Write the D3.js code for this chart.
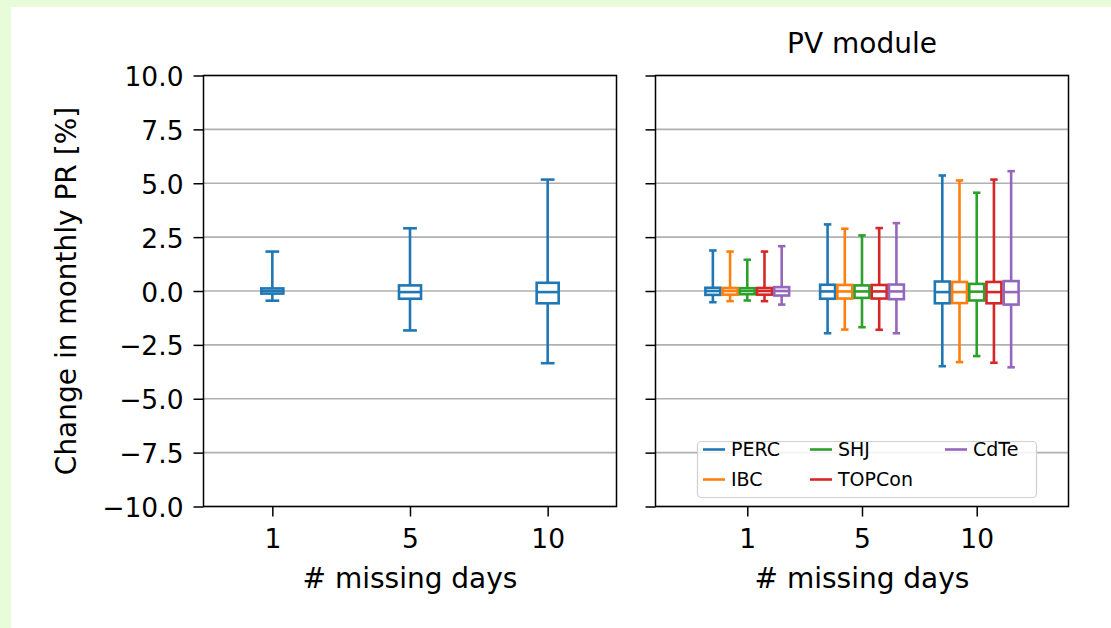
<!DOCTYPE html>
<html>
<head>
<meta charset="utf-8">
<script src="https://cdn.jsdelivr.net/npm/d3@7"></script>
<style>
  html, body { margin: 0; padding: 0; background: #e9fcd9; }
  svg { display: block; font-family: "DejaVu Sans", sans-serif; }
</style>
</head>
<body>
<svg id="chart" width="1111" height="628"></svg>
<script>
// Categories (number of missing days) and y-axis ticks
const missingDays = ["1", "5", "10"];
const yTicks = [-10, -7.5, -5, -2.5, 0, 2.5, 5, 7.5, 10];

// Box statistics per category: [lower whisker, Q1, median, Q3, upper whisker]
const allModules = [
  [-0.45, -0.12, 0.00, 0.12, 1.83],
  [-1.83, -0.36, -0.05, 0.26, 2.91],
  [-3.35, -0.57, -0.05, 0.38, 5.17]
];

const moduleTypes = ["PERC", "IBC", "SHJ", "TOPCon", "CdTe"];
const moduleColors = ["#1f77b4", "#ff7f0e", "#2ca02c", "#d62728", "#9467bd"];

const perc = [
  [-0.52, -0.18, 0.00, 0.15, 1.88],
  [-1.96, -0.36, -0.02, 0.29, 3.09],
  [-3.49, -0.57, -0.05, 0.44, 5.36]
];
const ibc = [
  [-0.47, -0.17, 0.00, 0.14, 1.83],
  [-1.79, -0.35, -0.02, 0.28, 2.89],
  [-3.30, -0.56, -0.05, 0.42, 5.13]
];
const shj = [
  [-0.44, -0.15, 0.00, 0.13, 1.45],
  [-1.68, -0.32, -0.02, 0.26, 2.58],
  [-3.02, -0.44, -0.03, 0.33, 4.56]
];
const topcon = [
  [-0.47, -0.17, 0.00, 0.14, 1.83],
  [-1.80, -0.35, -0.02, 0.28, 2.92],
  [-3.33, -0.57, -0.05, 0.42, 5.17]
];
const cdte = [
  [-0.63, -0.21, 0.00, 0.18, 2.08],
  [-1.96, -0.38, -0.02, 0.30, 3.15],
  [-3.54, -0.63, -0.05, 0.46, 5.56]
];
const moduleSeries = [perc, ibc, shj, topcon, cdte];
const moduleOffsets = [-0.3, -0.15, 0, 0.15, 0.3];

const svg = d3.select("#chart");

// white figure area
svg.append("rect").attr("x", 11).attr("y", 7).attr("width", 1100).attr("height", 621).attr("fill", "#ffffff");

const plotTop = 75.5, plotBottom = 506.5;
const y = d3.scaleLinear().domain([-10, 10]).range([plotBottom, plotTop]);

const panels = [
  { left: 203.5, right: 616.5, domain: [0.5, 3.5], labels: true },
  { left: 655.5, right: 1068.5, domain: [0.2, 3.8], labels: false }
];

function drawPanel(p) {
  const x = d3.scaleLinear().domain(p.domain).range([p.left, p.right]);
  const g = svg.append("g");

  // horizontal grid
  g.selectAll("line.grid").data(yTicks).join("line")
    .attr("x1", p.left).attr("x2", p.right)
    .attr("y1", d => y(d)).attr("y2", d => y(d))
    .attr("stroke", "#b0b0b0").attr("stroke-width", 1.6);

  // y axis
  const yAxis = d3.axisLeft(y).tickValues(yTicks).tickSize(10).tickPadding(10)
    .tickFormat(p.labels ? (d => d3.format(".1f")(d).replace("-", "\u2212")) : () => "");
  const ya = g.append("g").attr("transform", `translate(${p.left},0)`).call(yAxis);
  ya.select(".domain").remove();
  ya.selectAll(".tick line").attr("stroke", "#000").attr("stroke-width", 1.5);
  ya.selectAll(".tick text").attr("font-size", 26.5).attr("fill", "#000")
    .attr("font-family", "DejaVu Sans").attr("dy", "0.38em");

  // x axis
  const xAxis = d3.axisBottom(x).tickValues([1, 2, 3]).tickSize(10).tickPadding(13)
    .tickFormat((d, i) => missingDays[i]);
  const xa = g.append("g").attr("transform", `translate(0,${plotBottom})`).call(xAxis);
  xa.select(".domain").remove();
  xa.selectAll(".tick line").attr("stroke", "#000").attr("stroke-width", 1.5);
  xa.selectAll(".tick text").attr("font-size", 26.5).attr("fill", "#000")
    .attr("font-family", "DejaVu Sans");

  // x label
  g.append("text").attr("x", (p.left + p.right) / 2).attr("y", 588)
    .attr("text-anchor", "middle").attr("font-size", 28).attr("fill", "#000")
    .text("# missing days");

  return { x, g };
}

function drawBoxes(g, x, stats, offset, color, boxW, capW) {
  const bg = g.append("g").attr("stroke", color).attr("stroke-width", 2.6).attr("fill", "none");
  stats.forEach((s, i) => {
    const cx = x(i + 1 + offset);
    const hw = (x(boxW) - x(0)) / 2;
    const hc = (x(capW) - x(0)) / 2;
    const [lo, q1, med, q3, hi] = s;
    bg.append("line").attr("x1", cx).attr("x2", cx).attr("y1", y(q1)).attr("y2", y(lo));
    bg.append("line").attr("x1", cx).attr("x2", cx).attr("y1", y(q3)).attr("y2", y(hi));
    bg.append("line").attr("x1", cx - hc).attr("x2", cx + hc).attr("y1", y(lo)).attr("y2", y(lo));
    bg.append("line").attr("x1", cx - hc).attr("x2", cx + hc).attr("y1", y(hi)).attr("y2", y(hi));
    bg.append("rect").attr("x", cx - hw).attr("y", y(q3))
      .attr("width", 2 * hw).attr("height", y(q1) - y(q3)).attr("fill", "#fff");
    bg.append("line").attr("x1", cx - hw).attr("x2", cx + hw).attr("y1", y(med)).attr("y2", y(med));
  });
}

// left panel: all modules
const leftPanel = drawPanel(panels[0]);
drawBoxes(leftPanel.g, leftPanel.x, allModules, 0, "#1f77b4", 0.16, 0.1);

// right panel: per module technology
const rightPanel = drawPanel(panels[1]);
moduleSeries.forEach((s, k) => {
  drawBoxes(rightPanel.g, rightPanel.x, s, moduleOffsets[k], moduleColors[k], 0.13, 0.065);
});

// spines
panels.forEach(p => {
  svg.append("rect").attr("x", p.left).attr("y", plotTop)
    .attr("width", p.right - p.left).attr("height", plotBottom - plotTop)
    .attr("fill", "none").attr("stroke", "#000").attr("stroke-width", 1.5);
});

// y label
svg.append("text").attr("transform", `translate(76,${(plotTop + plotBottom) / 2}) rotate(-90)`)
  .attr("text-anchor", "middle").attr("font-size", 28).attr("fill", "#000")
  .text("Change in monthly PR [%]");

// title of right panel
svg.append("text").attr("x", (panels[1].left + panels[1].right) / 2).attr("y", 53)
  .attr("text-anchor", "middle").attr("font-size", 28).attr("fill", "#000")
  .text("PV module");

// legend
const lg = svg.append("g");
lg.append("rect").attr("x", 697.5).attr("y", 441.5).attr("width", 339).attr("height", 56)
  .attr("rx", 4).attr("fill", "#fff").attr("fill-opacity", 0.85)
  .attr("stroke", "#d0d0d0").attr("stroke-width", 1.2);
const legendCols = [703, 810, 945];
moduleTypes.forEach((name, k) => {
  const col = Math.floor(k / 2), row = k % 2;
  const lx = legendCols[col], ly = 449.5 + row * 30;
  lg.append("line").attr("x1", lx).attr("x2", lx + 22).attr("y1", ly).attr("y2", ly)
    .attr("stroke", moduleColors[k]).attr("stroke-width", 2.6);
  lg.append("text").attr("x", lx + 28).attr("y", ly).attr("dy", "0.36em")
    .attr("font-size", 19).attr("fill", "#000").text(name);
});
</script>
</body>
</html>
